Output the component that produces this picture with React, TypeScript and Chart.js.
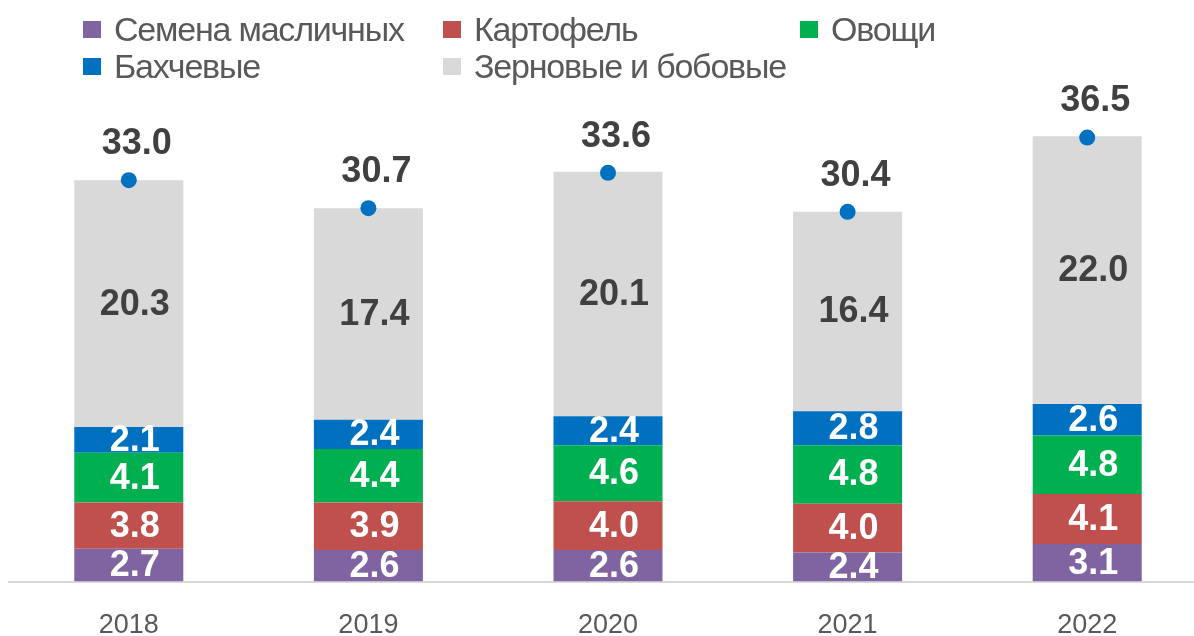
import React, { useEffect, useRef } from "react";
import { Chart, registerables } from "chart.js";

Chart.register(...registerables);

const categories = ["2018", "2019", "2020", "2021", "2022"];
const oilseeds = [2.7, 2.6, 2.6, 2.4, 3.1];
const potatoes = [3.8, 3.9, 4.0, 4.0, 4.1];
const vegetables = [4.1, 4.4, 4.6, 4.8, 4.8];
const melons = [2.1, 2.4, 2.4, 2.8, 2.6];
const grains = [20.3, 17.4, 20.1, 16.4, 22.0];
const totals = [33.0, 30.7, 33.6, 30.4, 36.5];

const seriesNames = ["Семена масличных", "Картофель", "Овощи", "Бахчевые", "Зерновые и бобовые"];
const seriesColors = ["#8064a2", "#c0504d", "#00b050", "#0070c0", "#d9d9d9"];
const labelColors = ["#ffffff", "#ffffff", "#ffffff", "#ffffff", "#404040"];

const FONT = "'Liberation Sans', Arial, sans-serif";

const labelPlugin = {
  id: "valueLabels",
  afterDatasetsDraw(chart: any) {
    const ctx = chart.ctx;
    ctx.save();
    ctx.textAlign = "center";
    ctx.textBaseline = "middle";
    chart.data.datasets.forEach((ds: any, di: number) => {
      const meta = chart.getDatasetMeta(di);
      meta.data.forEach((el: any, i: number) => {
        const v = ds.data[i];
        const txt = v.toFixed(1);
        if (ds.type === "line") {
          ctx.font = `bold 36px ${FONT}`;
          ctx.fillStyle = "#404040";
          ctx.fillText(txt, el.x + 8, el.y - 36);
        } else {
          ctx.font = `bold 36px ${FONT}`;
          ctx.fillStyle = labelColors[di - 1];
          ctx.fillText(txt, el.x + 6, (el.y + el.base) / 2 + 1);
        }
      });
    });
    ctx.restore();
  },
};

const legendCols = [83, 443, 800];
const legendRows = [29, 66];

export default function App() {
  const ref = useRef<HTMLCanvasElement>(null);
  useEffect(() => {
    const seriesData = [oilseeds, potatoes, vegetables, melons, grains];
    const chart = new Chart(ref.current!, {
      type: "bar",
      data: {
        labels: categories,
        datasets: [
          {
            type: "line" as any,
            label: "Итого",
            data: totals,
            showLine: false,
            pointRadius: 8,
            pointHoverRadius: 8,
            pointBackgroundColor: "#0070c0",
            pointBorderColor: "#0070c0",
            pointBorderWidth: 0,
            stack: "total",
            order: 0,
          } as any,
          ...seriesData.map((d, i) => ({
            type: "bar" as any,
            label: seriesNames[i],
            data: d,
            backgroundColor: seriesColors[i],
            borderWidth: 0,
            stack: "main",
            order: 1,
            categoryPercentage: 1,
            barPercentage: 0.455,
          })),
        ],
      },
      options: {
        animation: false,
        responsive: false,
        maintainAspectRatio: false,
        layout: { autoPadding: false, padding: { left: 9, right: 0, top: 95, bottom: 0 } },
        plugins: { legend: { display: false }, tooltip: { enabled: false } },
        scales: {
          x: {
            stacked: true,
            grid: { display: false, drawTicks: false },
            border: { display: true, color: "#d9d9d9", width: 2 },
            ticks: { color: "#595959", font: { family: FONT, size: 27 }, padding: 28 },
          },
          y: {
            stacked: true,
            display: false,
            min: 0,
            max: 40,
          },
        },
      },
      plugins: [labelPlugin],
    });
    return () => chart.destroy();
  }, []);

  const legendItems = [0, 1, 2, 3, 4].map((i) => {
    const col = i < 3 ? i : i - 3;
    const row = i < 3 ? 0 : 1;
    return (
      <div
        key={i}
        style={{
          position: "absolute",
          left: legendCols[col],
          top: legendRows[row] - 20,
          height: 40,
          display: "flex",
          alignItems: "center",
          whiteSpace: "nowrap",
        }}
      >
        <span style={{ display: "inline-block", width: 18, height: 17, background: seriesColors[i], marginRight: 13 }} />
        <span style={{ fontFamily: FONT, fontSize: 34, letterSpacing: "-1.2px", color: "#595959", lineHeight: "40px" }}>
          {seriesNames[i]}
        </span>
      </div>
    );
  });

  return (
    <div style={{ position: "fixed", left: 0, top: 0, width: 1194, height: 636, overflow: "hidden", background: "#fff" }}>
      <canvas ref={ref} width={1207} height={670} style={{ position: "absolute", left: 0, top: 0, width: 1207, height: 670 }} />
      {legendItems}
    </div>
  );
}
